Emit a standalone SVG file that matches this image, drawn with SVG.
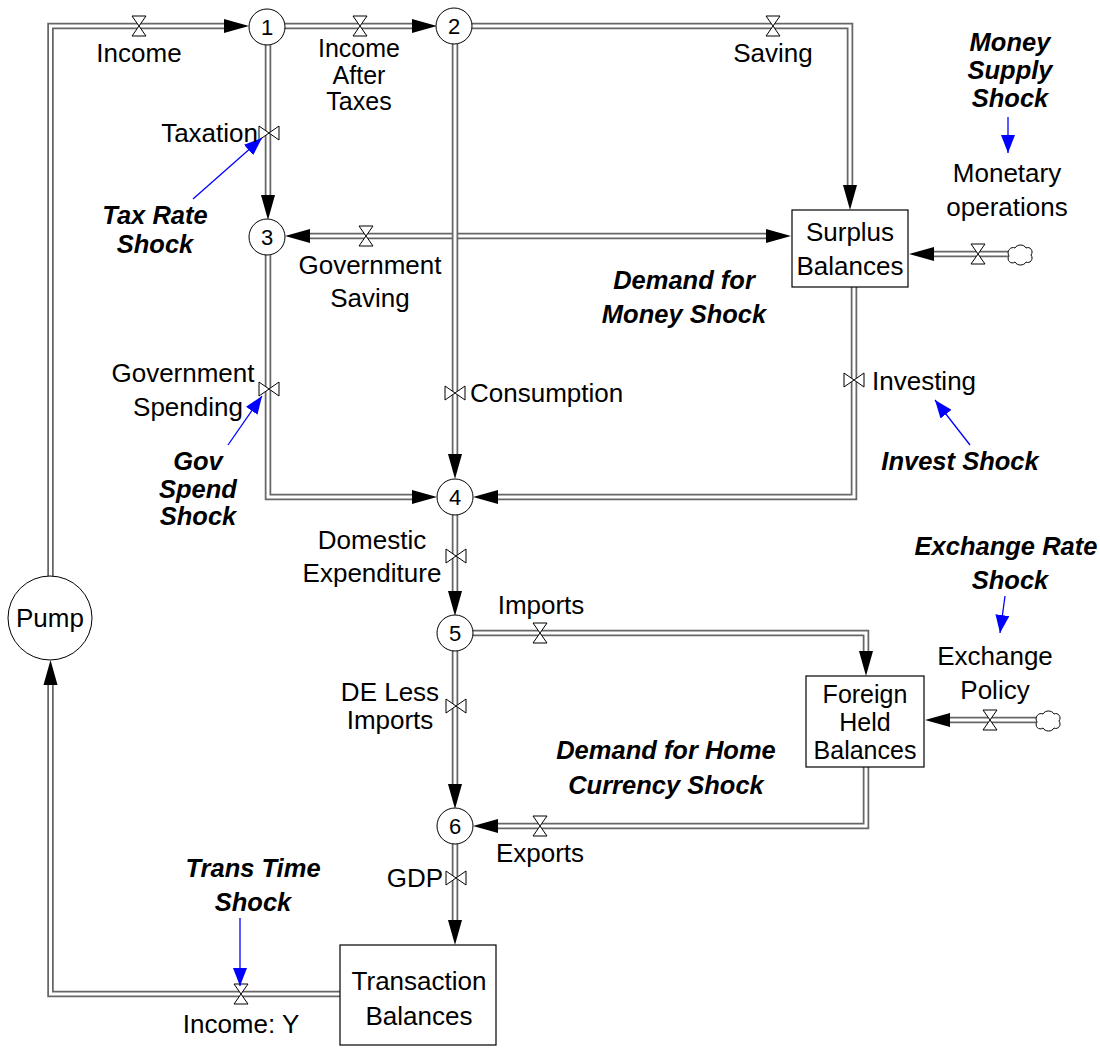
<svg xmlns="http://www.w3.org/2000/svg" xmlns:xlink="http://www.w3.org/1999/xlink" width="1100" height="1049" viewBox="0 0 1100 1049">
<style>
text{font-family:"Liberation Sans",Arial,sans-serif;font-size:26px;fill:#000;text-anchor:middle}
.sh{font-weight:bold;font-style:italic;font-size:25.5px}
.num{font-size:22px}
.tight{font-size:25px}
.po{fill:none;stroke:#666;stroke-width:6.5}
.pi{fill:none;stroke:#fff;stroke-width:3}
.ah{fill:#000}
.valve{fill:#fff;stroke:#000;stroke-width:1}
.stock{fill:#fff;stroke:#000;stroke-width:1.2}
.aux{fill:#fff;stroke:#000;stroke-width:1}
.blue{stroke:#0000ff;stroke-width:1.3;fill:none;marker-end:url(#ba)}
.cloud{fill:#fff;stroke:#000;stroke-width:1}
</style>
<defs>
<marker id="ba" markerUnits="userSpaceOnUse" markerWidth="20" markerHeight="14" refX="18" refY="7" orient="auto">
<path d="M0,0 L18,7 L0,14 Z" fill="#0000ff"/>
</marker>
<path id="vh" d="M-7,-10 H7 L0,0 Z M-7,10 H7 L0,0 Z"/>
<path id="vv" d="M-10,-7 V7 L0,0 Z M10,-7 V7 L0,0 Z"/>
<path id="cl" d="M-11,1 C-14,-4 -9,-9 -5,-7 C-3,-11 4,-11 6,-7 C10,-9 14,-4 11,0 C14,4 10,9 6,7 C4,11 -3,11 -5,7 C-9,10 -14,5 -11,1 Z"/>
</defs>
<rect width="1100" height="1049" fill="#fff"/>
<g id="connectors">
<path class="po" d="M50.5,578 V26 H226"/><path class="pi" d="M50.5,578 V26 H226"/>
<path class="po" d="M283,26 H414"/><path class="pi" d="M283,26 H414"/>
<path class="po" d="M471,26 H850 V187"/><path class="pi" d="M471,26 H850 V187"/>
<path class="po" d="M268,44 V197"/><path class="pi" d="M268,44 V197"/>
<path class="po" d="M308,236 H768"/><path class="pi" d="M308,236 H768"/>
<path class="po" d="M455,43 V455"/><path class="pi" d="M455,43 V455"/>
<path class="po" d="M268,254 V497 H414"/><path class="pi" d="M268,254 V497 H414"/>
<path class="po" d="M854,287 V497 H496"/><path class="pi" d="M854,287 V497 H496"/>
<path class="po" d="M455,514 V593"/><path class="pi" d="M455,514 V593"/>
<path class="po" d="M472,633 H866 V653"/><path class="pi" d="M472,633 H866 V653"/>
<path class="po" d="M455,650 V786"/><path class="pi" d="M455,650 V786"/>
<path class="po" d="M866,767 V826 H496"/><path class="pi" d="M866,767 V826 H496"/>
<path class="po" d="M455,843 V922"/><path class="pi" d="M455,843 V922"/>
<path class="po" d="M340,994 H50.5 V683"/><path class="pi" d="M340,994 H50.5 V683"/>
<path class="po" d="M1008,254 H931"/><path class="pi" d="M1008,254 H931"/>
<path class="po" d="M1036,720 H948"/><path class="pi" d="M1036,720 H948"/>
<path class="ah" d="M249,26 L224,19 V33 Z"/>
<path class="ah" d="M437,26 L412,19 V33 Z"/>
<path class="ah" d="M850,210 L843,185 H857 Z"/>
<path class="ah" d="M268,220 L261,195 H275 Z"/>
<path class="ah" d="M285,236 L310,229 V243 Z"/>
<path class="ah" d="M791,236 L766,229 V243 Z"/>
<path class="ah" d="M455,479 L448,454 H462 Z"/>
<path class="ah" d="M437,497 L412,490 V504 Z"/>
<path class="ah" d="M473,497 L498,490 V504 Z"/>
<path class="ah" d="M455,616 L448,591 H462 Z"/>
<path class="ah" d="M866,676 L859,651 H873 Z"/>
<path class="ah" d="M455,809 L448,784 H462 Z"/>
<path class="ah" d="M473,826 L498,819 V833 Z"/>
<path class="ah" d="M455,945 L448,920 H462 Z"/>
<path class="ah" d="M50.5,660 L43.5,685 H57.5 Z"/>
<path class="ah" d="M909,254 L934,247 V261 Z"/>
<path class="ah" d="M925,720 L950,713 V727 Z"/>
<use href="#vh" class="valve" x="139" y="26"/>
<use href="#vh" class="valve" x="360" y="26"/>
<use href="#vh" class="valve" x="773" y="26"/>
<use href="#vh" class="valve" x="366" y="236"/>
<use href="#vh" class="valve" x="978" y="254"/>
<use href="#vh" class="valve" x="540" y="633"/>
<use href="#vh" class="valve" x="540" y="826"/>
<use href="#vh" class="valve" x="990" y="720"/>
<use href="#vh" class="valve" x="241" y="994"/>
<use href="#vv" class="valve" x="269" y="133"/>
<use href="#vv" class="valve" x="269" y="389"/>
<use href="#vv" class="valve" x="455" y="393"/>
<use href="#vv" class="valve" x="854" y="380"/>
<use href="#vv" class="valve" x="456" y="556"/>
<use href="#vv" class="valve" x="456" y="706"/>
<use href="#vv" class="valve" x="456" y="878"/>
<use href="#cl" class="cloud" x="1020" y="255"/>
<use href="#cl" class="cloud" x="1048" y="721"/>
<path class="blue" d="M193,199 L262,138"/>
<path class="blue" d="M228,445 L262,396"/>
<path class="blue" d="M1008,117 L1008,153"/>
<path class="blue" d="M970,445 L935,400"/>
<path class="blue" d="M1005,596 L1000,633"/>
<path class="blue" d="M240,918 L240,986"/>
</g>
<g id="node-1"><circle class="aux" cx="267" cy="27" r="18"/><text class="num" x="267" y="35">1</text></g>
<g id="node-2"><circle class="aux" cx="454" cy="26" r="18"/><text class="num" x="454" y="34">2</text></g>
<g id="node-3"><circle class="aux" cx="267" cy="237" r="18"/><text class="num" x="267" y="245">3</text></g>
<g id="node-4"><circle class="aux" cx="455" cy="497" r="18"/><text class="num" x="455" y="505">4</text></g>
<g id="node-5"><circle class="aux" cx="455" cy="633" r="18"/><text class="num" x="455" y="641">5</text></g>
<g id="node-6"><circle class="aux" cx="455" cy="826" r="18"/><text class="num" x="455" y="834">6</text></g>
<g id="pump"><circle class="aux" cx="50" cy="618" r="42"/><text x="50" y="627">Pump</text></g>
<g id="surplus-balances"><rect class="stock" x="792" y="210" width="116" height="77"/><text x="850" y="241">Surplus</text><text x="850" y="275">Balances</text></g>
<g id="foreign-held-balances"><rect class="stock" x="806" y="676" width="118" height="91"/><text class="tight" x="865" y="703">Foreign</text><text class="tight" x="865" y="731">Held</text><text class="tight" x="865" y="759">Balances</text></g>
<g id="transaction-balances"><rect class="stock" x="340" y="945" width="156" height="100"/><text x="419" y="990">Transaction</text><text x="419" y="1025">Balances</text></g>
<g id="labels">
<text x="139" y="62">Income</text>
<text class="tight" x="359" y="57">Income</text><text class="tight" x="359" y="84">After</text><text class="tight" x="359" y="110">Taxes</text>
<text x="773" y="62">Saving</text>
<text x="258" y="142" style="text-anchor:end">Taxation</text>
<text x="370" y="274">Government</text><text x="370" y="307">Saving</text>
<text x="183" y="382">Government</text><text x="188" y="416">Spending</text>
<text x="470" y="402" style="text-anchor:start">Consumption</text>
<text x="872" y="390" style="text-anchor:start">Investing</text>
<text x="1007" y="182">Monetary</text><text x="1007" y="216">operations</text>
<text x="372" y="549">Domestic</text><text x="372" y="582">Expenditure</text>
<text x="541" y="614">Imports</text>
<text x="390" y="701">DE Less</text><text x="390" y="729">Imports</text>
<text x="995" y="665">Exchange</text><text x="995" y="699">Policy</text>
<text x="540" y="862">Exports</text>
<text x="443" y="887" style="text-anchor:end">GDP</text>
<text x="241" y="1033">Income: Y</text>
</g>
<g id="shocks">
<text class="sh" x="1010" y="51">Money</text><text class="sh" x="1010" y="79">Supply</text><text class="sh" x="1010" y="107">Shock</text>
<text class="sh" x="155" y="224">Tax Rate</text><text class="sh" x="155" y="253">Shock</text>
<text class="sh" x="684" y="289">Demand for</text><text class="sh" x="684" y="323">Money Shock</text>
<text class="sh" x="198" y="470">Gov</text><text class="sh" x="198" y="498">Spend</text><text class="sh" x="198" y="525">Shock</text>
<text class="sh" x="960" y="470">Invest Shock</text>
<text class="sh" x="1006" y="555">Exchange Rate</text><text class="sh" x="1010" y="589">Shock</text>
<text class="sh" x="666" y="759">Demand for Home</text><text class="sh" x="666" y="794">Currency Shock</text>
<text class="sh" x="253" y="877">Trans Time</text><text class="sh" x="253" y="911">Shock</text>
</g>
</svg>
